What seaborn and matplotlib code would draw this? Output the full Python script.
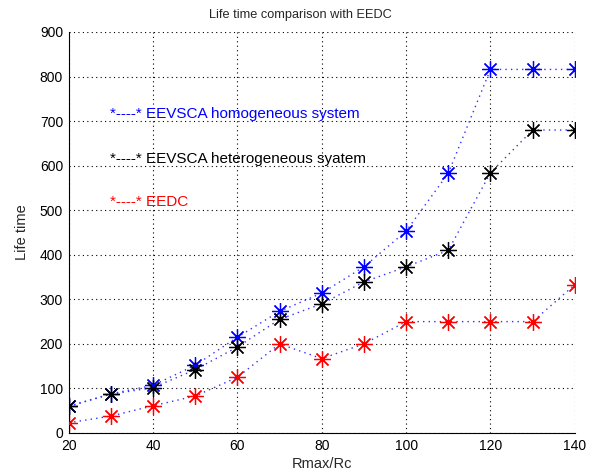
import matplotlib
matplotlib.use("Agg")
import matplotlib.pyplot as plt
import seaborn as sns
import pandas as pd

x_vals = [20, 30, 40, 50, 60, 70, 80, 90, 100, 110, 120, 130, 140]
homogeneous = [60, 88, 107, 152, 215, 273, 314, 373, 453, 583, 816, 816, 816]
heterogeneous = [60, 87, 102, 142, 193, 255, 290, 339, 373, 410, 584, 680, 680]
eedc = [23, 38, 61, 83, 125, 200, 167, 200, 250, 250, 250, 250, 333]

series_names = ["EEVSCA homogeneous system", "EEVSCA heterogeneous syatem", "EEDC"]
series_colors = ["#0000ff", "#000000", "#ff0000"]
label_y = [716, 614, 518]

sns.set_style("white")
plt.rcParams['font.family'] = ['Liberation Sans', 'DejaVu Sans']

fig = plt.figure(figsize=(5.92, 4.74), dpi=100)
ax = fig.add_axes([0.116, 0.0865, 0.855, 0.846])

asterisk = (8, 2, 0)
for name, vals, col in zip(series_names, [homogeneous, heterogeneous, eedc], series_colors):
    df = pd.DataFrame({"x": x_vals, "y": vals})
    sns.lineplot(data=df, x="x", y="y", ax=ax, color="#3030ff", linestyle=(0, (1, 3)),
                 linewidth=1.0, marker=asterisk, markersize=12,
                 markeredgecolor=col, markerfacecolor=col, markeredgewidth=0.9)
    sns.scatterplot(data=df, x="x", y="y", ax=ax, color=col, s=6, linewidth=0, zorder=5)

for name, col, yy in zip(series_names, series_colors, label_y):
    ax.text(29.8, yy, "*----* " + name, color=col, fontsize=11, va="center", ha="left")

ax.set_xlim(20, 140)
ax.set_ylim(0, 900)
ax.set_xticks(range(20, 141, 20))
ax.set_yticks(range(0, 901, 100))
ax.grid(True, color="black", linestyle=(0, (1, 3)), linewidth=0.8)
ax.tick_params(direction="in", labelsize=10, length=3, colors="black", pad=4)
ax.set_xlabel("Rmax/Rc", fontsize=10.5, labelpad=3)
ax.set_ylabel("Life time", fontsize=10.5, labelpad=8)
ax.set_title("Life time comparison with EEDC", fontsize=9.2, pad=10, x=0.457)
for s in ["top", "right"]:
    ax.spines[s].set_visible(False)
for s in ["left", "bottom"]:
    ax.spines[s].set_color("black")
    ax.spines[s].set_linewidth(0.8)

fig.savefig("out.png", dpi=100)
